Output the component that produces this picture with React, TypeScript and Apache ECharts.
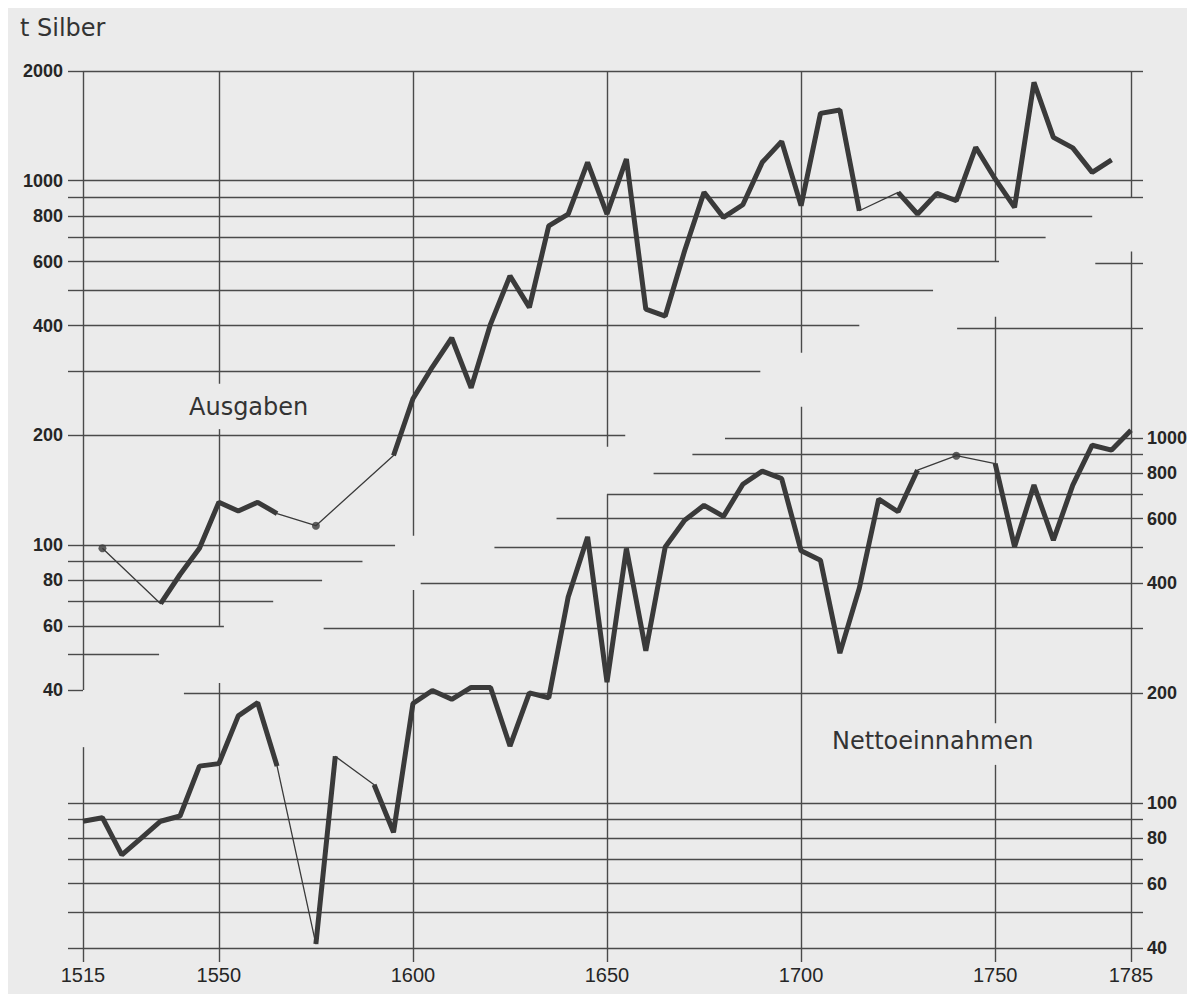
import React, { useEffect, useRef } from "react";
import * as echarts from "echarts";

// ---------- data ----------
const years = [
  1515, 1520, 1525, 1530, 1535, 1540, 1545, 1550, 1555, 1560, 1565, 1570, 1575, 1580,
  1585, 1590, 1595, 1600, 1605, 1610, 1615, 1620, 1625, 1630, 1635, 1640, 1645, 1650,
  1655, 1660, 1665, 1670, 1675, 1680, 1685, 1690, 1695, 1700, 1705, 1710, 1715, 1720,
  1725, 1730, 1735, 1740, 1745, 1750, 1755, 1760, 1765, 1770, 1775, 1780, 1785,
];

// Ausgaben (t Silber, left scale)
const ausgaben: (number | null)[] = [
  null, 98, null, null, 69, 83, 98, 131, 124, 131, 122, null, 113, null,
  null, null, 176, 252, 308, 370, 270, 404, 548, 449, 752, 810, 1123, 810,
  1147, 444, 425, 642, 929, 793, 859, 1123, 1282, 854, 1530, 1563, 827, null,
  929, 810, 923, 881, 1235, 1011, 845, 1862, 1315, 1230, 1054, 1140, null,
];

// Nettoeinnahmen (t Silber, right scale)
const nettoeinnahmen: (number | null)[] = [
  89, 91, 72, 80, 89, 92, 126, 128, 173, 188, 126, null, 41, 134,
  null, 112, 83, 187, 203, 192, 207, 207, 143, 200, 194, 366, 535, 214,
  497, 261, 502, 594, 653, 609, 746, 810, 773, 490, 462, 257, 387, 679,
  627, 815, null, 893, null, 850, 503, 742, 524, 742, 954, 925, 1049,
];

// tick labels and tick marks
const xTickLabels = [1515, 1550, 1600, 1650, 1700, 1750, 1785];
const leftTickLabels = [40, 60, 80, 100, 200, 400, 600, 800, 1000, 2000];
const leftTicks = [40, 50, 60, 70, 80, 90, 100, 200, 300, 400, 500, 600, 700, 800, 900, 1000, 2000];
const leftTicksRightSide = [900, 1000, 2000];
const rightTickLabels = [40, 60, 80, 100, 200, 400, 600, 800, 1000];
const rightTicks = [40, 50, 60, 70, 80, 90, 100, 200, 300, 400, 500, 600, 700, 800, 900, 1000, 2000, 3000];
const rightTicksLeftSide = [40, 50, 60, 70, 80, 90, 100];

// staircase grid lines of the left scale: [value, year where the line ends]
const leftGridEnds = [
  [2000, 1785], [1000, 1785], [900, 1785], [800, 1775], [700, 1763], [600, 1751],
  [500, 1734], [400, 1715], [300, 1689.5], [200, 1654.7], [100, 1595.4], [90, 1587],
  [80, 1576.6], [70, 1564], [60, 1551.3], [50, 1534.6],
];
// staircase grid lines of the right scale: [value, year where the line starts]
const rightGridStarts = [
  [3000, 1775.8], [2000, 1740.2], [1000, 1680.4], [900, 1672], [800, 1662], [700, 1650],
  [600, 1637], [500, 1621], [400, 1602], [300, 1577], [200, 1541], [100, 1515],
  [90, 1515], [80, 1515], [70, 1515], [60, 1515], [50, 1515], [40, 1515],
];
// vertical year lines: [year, from value, to value]
const leftVerticals = [
  [1515, 2000, 40], [1550, 2000, 277], [1550, 208, 60], [1600, 2000, 106],
  [1650, 2000, 186], [1700, 2000, 337], [1750, 2000, 600], [1785, 2000, 900],
];
const rightVerticals = [
  [1515, 142, 40], [1550, 213, 40], [1600, 383, 40], [1650, 700, 40],
  [1700, 1216, 40], [1750, 2146, 165], [1750, 127, 40], [1785, 3236, 40],
];

const INK = "#3a3a3a";
const GRIDC = "#4a4a4a";
const LABEL = "#262626";

function thickData(v: (number | null)[]) {
  return years.map((y, i) => [y, v[i] == null ? "-" : v[i]]);
}
function thinData(v: (number | null)[]) {
  return years.map((y, i) => [y, v[i]]).filter((p) => p[1] != null);
}
function isolated(v: (number | null)[]) {
  const out: number[][] = [];
  v.forEach((val, i) => {
    if (val == null) return;
    const prev = i > 0 ? v[i - 1] : null;
    const next = i < v.length - 1 ? v[i + 1] : null;
    if (prev == null && next == null) out.push([years[i], val]);
  });
  return out;
}

const markStyle = {
  silent: true,
  symbol: ["none", "none"],
  label: { show: false },
  emphasis: { disabled: true },
  lineStyle: { type: "solid", color: GRIDC, width: 1.4 },
  z: 1,
  animation: false,
};

const tickStyle = { color: GRIDC, width: 1.4 };
const yLabelStyle = {
  fontFamily: "'Liberation Sans', Arial, sans-serif",
  fontWeight: "bold",
  fontSize: 18,
  color: LABEL,
};

export default function App() {
  const ref = useRef<HTMLDivElement>(null);
  useEffect(() => {
    document.body.style.margin = "0";
    if (!ref.current) return;
    const chart = echarts.init(ref.current, undefined, { renderer: "svg" });
    const fmt = (v: number) => String(Math.round(v));
    const option: any = {
      animation: false,
      backgroundColor: "#ebebeb",
      grid: [
        { left: 75, right: 56, top: 63, height: 619, containLabel: false, outerBoundsMode: "none" },
        { left: 75, right: 56, top: 210, height: 730, containLabel: false, outerBoundsMode: "none" },
      ],
      xAxis: [
        { gridIndex: 0, type: "value", min: 1515, max: 1785, show: false },
        {
          gridIndex: 1,
          type: "value",
          min: 1515,
          max: 1785,
          axisLine: { show: false },
          splitLine: { show: false },
          axisTick: { show: true, customValues: xTickLabels, length: 14, inside: false, lineStyle: tickStyle },
          axisLabel: {
            customValues: xTickLabels,
            formatter: fmt,
            margin: 17,
            fontFamily: "'Liberation Sans', Arial, sans-serif",
            fontSize: 20,
            color: LABEL,
          },
        },
      ],
      yAxis: [
        {
          gridIndex: 0,
          type: "log",
          logBase: 10,
          min: 40,
          max: 2000,
          position: "left",
          axisLine: { show: false },
          splitLine: { show: false },
          axisTick: { show: true, customValues: leftTicks, length: 15, inside: false, lineStyle: tickStyle },
          axisLabel: { customValues: leftTickLabels, formatter: fmt, margin: 20, ...yLabelStyle },
        },
        {
          gridIndex: 1,
          type: "log",
          logBase: 10,
          min: 40,
          max: 4000,
          position: "right",
          axisLine: { show: false },
          splitLine: { show: false },
          axisTick: { show: true, customValues: rightTicks, length: 12, inside: false, lineStyle: tickStyle },
          axisLabel: { customValues: rightTickLabels, formatter: fmt, margin: 16, ...yLabelStyle },
        },
        {
          gridIndex: 0,
          type: "log",
          logBase: 10,
          min: 40,
          max: 2000,
          position: "right",
          axisLine: { show: false },
          splitLine: { show: false },
          axisTick: { show: true, customValues: leftTicksRightSide, length: 12, inside: false, lineStyle: tickStyle },
          axisLabel: { show: false },
        },
        {
          gridIndex: 1,
          type: "log",
          logBase: 10,
          min: 40,
          max: 4000,
          position: "left",
          axisLine: { show: false },
          splitLine: { show: false },
          axisTick: { show: true, customValues: rightTicksLeftSide, length: 15, inside: false, lineStyle: tickStyle },
          axisLabel: { show: false },
        },
      ],
      series: [
        {
          type: "line",
          xAxisIndex: 0,
          yAxisIndex: 0,
          data: thinData(ausgaben),
          symbol: "none",
          silent: true,
          z: 3,
          lineStyle: { color: INK, width: 1.3 },
          markLine: {
            ...markStyle,
            data: [
              ...leftGridEnds.map(([v, end]) => [{ coord: [1515, v] }, { coord: [end, v] }]),
              ...leftVerticals.map(([yr, a, b]) => [{ coord: [yr, a] }, { coord: [yr, b] }]),
            ],
          },
        },
        {
          type: "line",
          xAxisIndex: 0,
          yAxisIndex: 0,
          data: thickData(ausgaben),
          connectNulls: false,
          symbol: "none",
          silent: true,
          z: 4,
          lineStyle: { color: INK, width: 5 },
        },
        {
          type: "scatter",
          xAxisIndex: 0,
          yAxisIndex: 0,
          data: isolated(ausgaben),
          symbolSize: 8,
          silent: true,
          z: 5,
          itemStyle: { color: INK },
        },
        {
          type: "line",
          xAxisIndex: 1,
          yAxisIndex: 1,
          data: thinData(nettoeinnahmen),
          symbol: "none",
          silent: true,
          z: 3,
          lineStyle: { color: INK, width: 1.3 },
          markLine: {
            ...markStyle,
            data: [
              ...rightGridStarts.map(([v, start]) => [{ coord: [start, v] }, { coord: [1785, v] }]),
              ...rightVerticals.map(([yr, a, b]) => [{ coord: [yr, a] }, { coord: [yr, b] }]),
            ],
          },
        },
        {
          type: "line",
          xAxisIndex: 1,
          yAxisIndex: 1,
          data: thickData(nettoeinnahmen),
          connectNulls: false,
          symbol: "none",
          silent: true,
          z: 4,
          lineStyle: { color: INK, width: 5 },
        },
        {
          type: "scatter",
          xAxisIndex: 1,
          yAxisIndex: 1,
          data: isolated(nettoeinnahmen),
          symbolSize: 8,
          silent: true,
          z: 5,
          itemStyle: { color: INK },
        },
      ],
      graphic: [
        {
          type: "text",
          x: 12,
          y: 20,
          silent: true,
          style: { text: "t Silber", font: "24px 'DejaVu Sans'", fill: "#333", align: "left", verticalAlign: "middle" },
        },
        {
          type: "text",
          x: 181,
          y: 399,
          silent: true,
          style: { text: "Ausgaben", font: "24px 'DejaVu Sans'", fill: "#333", align: "left", verticalAlign: "middle" },
        },
        {
          type: "text",
          x: 824,
          y: 733,
          silent: true,
          style: { text: "Nettoeinnahmen", font: "24px 'DejaVu Sans'", fill: "#333", align: "left", verticalAlign: "middle" },
        },
      ],
    };
    chart.setOption(option);
    return () => chart.dispose();
  }, []);
  return (
    <div style={{ width: 1187, height: 994, background: "#ffffff", paddingLeft: 8, paddingTop: 8, boxSizing: "border-box", overflow: "hidden" }}>
      <div ref={ref} style={{ width: 1179, height: 986 }} />
    </div>
  );
}
